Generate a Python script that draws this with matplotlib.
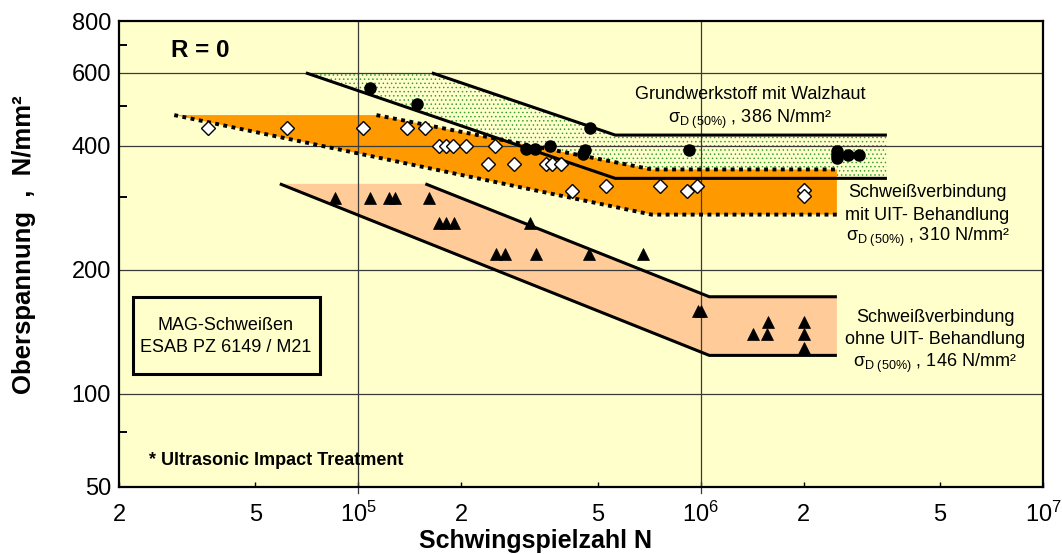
import numpy as np
import matplotlib
matplotlib.use("Agg")
import matplotlib.pyplot as plt
from matplotlib.ticker import FixedLocator, FixedFormatter, NullFormatter, NullLocator
from matplotlib.patches import Rectangle

plt.rcParams['font.family'] = ['Liberation Sans', 'DejaVu Sans']
plt.rcParams['mathtext.fontset'] = 'custom'
plt.rcParams['mathtext.rm'] = 'Liberation Sans'
plt.rcParams['mathtext.it'] = 'Liberation Sans:italic'
plt.rcParams['mathtext.bf'] = 'Liberation Sans:bold'
plt.rcParams['hatch.linewidth'] = 0.55

# ---- scatter bands (cycles N, upper stress in N/mm²) ----
# base metal with mill scale
bm_upper_n = [1.64e5, 5.63e5, 3.5e6]
bm_upper_s = [600, 424, 424]
bm_lower_n = [7.03e4, 5.63e5, 3.5e6]
bm_lower_s = [600, 333, 333]

# welded joint with UIT
uit_upper_n = [1.13e5, 7.2e5, 2.5e6]
uit_upper_s = [474, 350, 350]
uit_lower_n = [2.9e4, 7.2e5, 2.5e6]
uit_lower_s = [474, 272, 272]

# welded joint as welded
aw_upper_n = [1.57e5, 1.06e6, 2.5e6]
aw_upper_s = [323, 172, 172]
aw_lower_n = [5.9e4, 1.06e6, 2.5e6]
aw_lower_s = [323, 124, 124]

# ---- test results ----
bm_n = [1.08e5, 1.48e5, 3.09e5, 3.29e5, 3.64e5, 4.76e5, 4.58e5, 4.53e5, 9.24e5,
        2.5e6, 2.5e6, 2.5e6, 2.7e6, 2.9e6]
bm_s = [550, 504, 392, 392, 400, 442, 390, 381, 390, 387, 380, 374, 380, 380]

uit_n = [3.63e4, 6.2e4, 1.03e5, 1.39e5, 1.57e5, 1.72e5, 1.80e5, 1.89e5, 2.07e5, 2.5e5,
         2.4e5, 2.85e5, 3.54e5, 3.68e5, 3.9e5, 4.22e5, 5.3e5, 7.63e5, 9.14e5, 9.73e5,
         2.0e6, 2.0e6]
uit_s = [440, 440, 440, 440, 440, 399, 399, 399, 399, 399,
         360, 360, 360, 360, 360, 310, 320, 320, 310, 320,
         312, 301]

aw_n = [8.57e4, 1.08e5, 1.23e5, 1.28e5, 1.61e5, 1.72e5, 1.80e5, 1.90e5, 3.18e5, 2.53e5,
        2.68e5, 3.31e5, 4.71e5, 6.8e5, 9.8e5, 1.0e6, 1.42e6, 1.56e6, 1.57e6, 2.0e6,
        2.0e6, 2.0e6]
aw_s = [299, 299, 299, 299, 299, 260, 260, 260, 260, 218,
        218, 218, 218, 218, 159, 159, 140, 140, 149, 149,
        140, 129]

# ---- axes ticks ----
x_ticks = [2e4, 5e4, 1e5, 2e5, 5e5, 1e6, 2e6, 5e6, 1e7]
x_labels = ['2', '5', r'$10^{5}$', '2', '5', r'$10^{6}$', '2', '5', r'$10^{7}$']
y_ticks = [50, 100, 200, 400, 600, 800]
y_labels = ['50', '100', '200', '400', '600', '800']
y_minor = [75, 300, 500, 700]
x_grid = [1e5, 1e6]
y_grid = [100, 200, 400, 600]

# stress axis: logarithmic above 100, compressed logarithmic below
K_LOW = 0.7468


def fwd(y):
    ly = np.log10(np.clip(np.asarray(y, dtype=float), 1e-9, None))
    return np.where(ly >= 2, ly, 2 + K_LOW * (ly - 2))


def inv(t):
    t = np.asarray(t, dtype=float)
    return np.where(t >= 2, 10 ** t, 10 ** (2 + (t - 2) / K_LOW))


BG = '#FFFFCC'
ORANGE = '#FF9900'
PEACH = '#FFCC99'
GREEN = '#2F9E2F'

fig = plt.figure(figsize=(10.62, 5.54), dpi=100)
ax = fig.add_axes([119 / 1062, 1 - 486.7 / 554, 924 / 1062, 465.4 / 554])
ax.set_facecolor(BG)
ax.set_xscale('log')
ax.set_yscale('function', functions=(fwd, inv))
ax.set_xlim(2e4, 1e7)
ax.set_ylim(50, 800)

# bands
ax.fill(bm_upper_n + bm_lower_n[::-1], bm_upper_s + bm_lower_s[::-1],
        facecolor='none', edgecolor=GREEN, hatch='....', lw=0, zorder=1)
ax.fill(uit_upper_n + uit_lower_n[::-1], uit_upper_s + uit_lower_s[::-1],
        facecolor=ORANGE, edgecolor='none', lw=0, zorder=1.2)
ax.fill(aw_upper_n + aw_lower_n[::-1], aw_upper_s + aw_lower_s[::-1],
        facecolor=PEACH, edgecolor='none', lw=0, zorder=1.2)

# grid
for v in x_grid:
    ax.axvline(v, ymin=-0.014, ymax=1, color='#3A3A3A', lw=0.9, zorder=2, clip_on=False)
for h in y_grid:
    ax.axhline(h, color='#3A3A3A', lw=0.9, zorder=2)

# band boundaries
solid = dict(color='black', lw=2.2, solid_capstyle='butt', zorder=3)
dotted = dict(color='black', lw=2.8, linestyle=(0, (1.0, 1.15)), dash_capstyle='butt', zorder=3)
ax.plot(bm_upper_n, bm_upper_s, **solid)
ax.plot(bm_lower_n, bm_lower_s, **solid)
ax.plot(aw_upper_n, aw_upper_s, **solid)
ax.plot(aw_lower_n, aw_lower_s, **solid)
ax.plot(uit_upper_n, uit_upper_s, **dotted)
ax.plot(uit_lower_n, uit_lower_s, **dotted)

# test points
ax.plot(uit_n, uit_s, linestyle='none', marker='D', ms=6.8, mfc='white', mec='black', mew=1.0, zorder=4)
ax.plot(aw_n, aw_s, linestyle='none', marker='^', ms=8.5, mfc='black', mec='black', mew=0.5, zorder=4)
ax.plot(bm_n, bm_s, linestyle='none', marker='o', ms=8, mfc='black', mec='black', zorder=5)

# ticks
ax.xaxis.set_major_locator(FixedLocator(x_ticks))
ax.xaxis.set_major_formatter(FixedFormatter(x_labels))
ax.xaxis.set_minor_locator(NullLocator())
ax.yaxis.set_major_locator(FixedLocator(y_ticks))
ax.yaxis.set_major_formatter(FixedFormatter(y_labels))
ax.yaxis.set_minor_locator(FixedLocator(y_minor))
ax.yaxis.set_minor_formatter(NullFormatter())
ax.tick_params(axis='x', which='major', direction='in', length=3.6, width=1.0,
               pad=25, labelsize=17, top=False)
ax.tick_params(axis='y', which='major', length=0, pad=5.8, labelsize=17, right=False)
ax.tick_params(axis='y', which='minor', direction='in', length=5.5, width=1.4, right=False)
for lab in ax.get_xticklabels():
    lab.set_va('baseline')

for sp in ax.spines.values():
    sp.set_linewidth(1.6)
    sp.set_zorder(6)

# axis titles
fig.text(535.5 / 1062, 1 - 548 / 554, 'Schwingspielzahl N', ha='center', va='baseline',
         fontsize=18, fontweight='bold')
fig.text(24 / 1062, 1 - 245 / 554, 'Oberspannung  ,  N/mm²', rotation=90, ha='center',
         va='center', fontsize=18.5, fontweight='bold')

# annotations (axes fraction)
tr = ax.transAxes
ax.text(0.0563, 0.9239, 'R = 0', transform=tr, ha='left', va='baseline',
        fontsize=17.5, fontweight='bold', zorder=7)

sig = r'$\mathrm{σ}_{\mathrm{D\ (50\%)}}$'
ax.text(0.6829, 0.8324, 'Grundwerkstoff mit Walzhaut', transform=tr, ha='center',
        va='baseline', fontsize=13, zorder=7)
ax.text(0.6829, 0.7821, sig + ' , 386 N/mm²', transform=tr, ha='center',
        va='baseline', fontsize=13, zorder=7)

ax.text(0.8750, 0.6233, 'Schweißverbindung', transform=tr, ha='center', va='baseline',
        fontsize=13, zorder=7)
ax.text(0.8750, 0.5720, 'mit UIT- Behandlung', transform=tr, ha='center', va='baseline',
        fontsize=13, zorder=7)
ax.text(0.8750, 0.5286, sig + ' , 310 N/mm²', transform=tr, ha='center', va='baseline',
        fontsize=13, zorder=7)

ax.text(0.8831, 0.3532, 'Schweißverbindung', transform=tr, ha='center', va='baseline',
        fontsize=13, zorder=7)
ax.text(0.8831, 0.3066, 'ohne UIT- Behandlung', transform=tr, ha='center', va='baseline',
        fontsize=13, zorder=7)
ax.text(0.8831, 0.2578, sig + ' , 146 N/mm²', transform=tr, ha='center', va='baseline',
        fontsize=13, zorder=7)

# welding process box
ax.add_patch(Rectangle((0.0148, 0.2422), 0.2027, 0.1661, transform=tr, fill=False,
                       edgecolor='black', lw=2.2, zorder=7))
ax.text(0.1153, 0.3367, 'MAG-Schweißen', transform=tr, ha='center', va='baseline',
        fontsize=13, zorder=7)
ax.text(0.1153, 0.2901, 'ESAB PZ 6149 / M21', transform=tr, ha='center', va='baseline',
        fontsize=13, zorder=7)

ax.text(0.0328, 0.0466, '* Ultrasonic Impact Treatment', transform=tr, ha='left',
        va='baseline', fontsize=13, fontweight='bold', zorder=7)

fig.savefig('out.png', dpi=100, facecolor='white')
